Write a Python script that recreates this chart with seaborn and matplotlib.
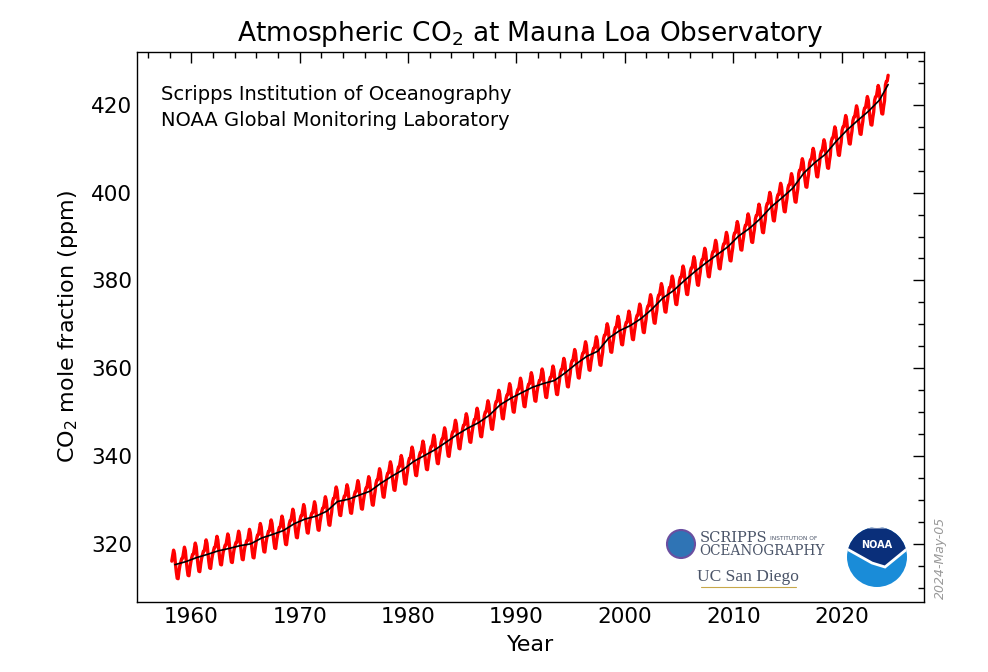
import matplotlib
matplotlib.use("Agg")
import matplotlib.pyplot as plt
from matplotlib.patches import Ellipse, Polygon
from matplotlib.ticker import MultipleLocator
import numpy as np
import pandas as pd
import seaborn as sns

# Annual mean CO2 (ppm) at Mauna Loa, 1958 (partial) .. 2024 (Jan-Apr)
years = list(range(1958, 2025))
annual_mean = [
    315.3, 315.98, 316.91, 317.64, 318.45, 318.99, 319.62, 320.04, 321.37, 322.18,
    323.05, 324.62, 325.68, 326.32, 327.46, 329.68, 330.19, 331.13, 332.03, 333.84,
    335.41, 336.84, 338.76, 340.12, 341.48, 343.15, 344.87, 346.35, 347.61, 349.31,
    351.69, 353.20, 354.45, 355.70, 356.54, 357.21, 358.96, 360.97, 362.74, 363.88,
    366.84, 368.54, 369.71, 371.32, 373.45, 375.98, 377.70, 379.98, 382.09, 384.02,
    385.83, 387.64, 390.10, 391.85, 394.06, 396.74, 398.81, 401.01, 404.41, 406.76,
    408.72, 411.66, 414.24, 416.45, 418.56, 421.08, 424.6,
]
# Seasonal departure from the annual mean, Jan..Dec (ppm)
seasonal_cycle = [-0.1, 0.7, 0.8, 2.1, 3.3, 2.5, 0.3, -1.6, -3.1, -3.2, -1.5, -0.2]
first_month = (1958, 3)
last_month = (2024, 4)

# monthly record
rows = []
for y, mean in zip(years, annual_mean):
    for m in range(1, 13):
        if (y, m) < first_month or (y, m) > last_month:
            continue
        rows.append({"time": y + (m - 0.5) / 12, "co2": mean + seasonal_cycle[m - 1]})
monthly = pd.DataFrame(rows)

trend = pd.DataFrame({
    "time": np.clip(np.array(years) + 0.5, monthly["time"].min(), monthly["time"].max()),
    "co2": annual_mean,
})

sns.set_style("white")
plt.rcParams["font.family"] = ["DejaVu Sans"]
plt.rcParams["text.color"] = "black"
plt.rcParams["axes.labelcolor"] = "black"
plt.rcParams["xtick.color"] = "black"
plt.rcParams["ytick.color"] = "black"

fig = plt.figure(figsize=(9.88, 6.72), dpi=100)
ax = fig.add_axes([137 / 988, 1 - 602 / 672, (924 - 137) / 988, (602 - 52) / 672])

sns.lineplot(data=monthly, x="time", y="co2", color="red", linewidth=2.4, ax=ax)
sns.lineplot(data=trend, x="time", y="co2", color="black", linewidth=1.2, ax=ax)

ax.set_xlim(1955, 2027.6)
ax.set_ylim(306.8, 432)
ax.xaxis.set_major_locator(MultipleLocator(10))
ax.xaxis.set_minor_locator(MultipleLocator(2))
ax.yaxis.set_major_locator(MultipleLocator(20))
ax.yaxis.set_minor_locator(MultipleLocator(5))
ax.tick_params(which="both", direction="in", top=True, right=True, labelsize=15.5, color="black")
ax.tick_params(which="major", length=8, width=1)
ax.tick_params(which="minor", length=4, width=1)
for s in ax.spines.values():
    s.set_color("black")
    s.set_linewidth(1)

ax.set_title("Atmospheric CO$_2$ at Mauna Loa Observatory", fontsize=19, pad=8)
ax.set_xlabel("Year", fontsize=16, labelpad=6)
ax.set_ylabel("CO$_2$ mole fraction (ppm)", fontsize=16, labelpad=8)

ax.text(0.03, 0.94, "Scripps Institution of Oceanography\nNOAA Global Monitoring Laboratory",
        transform=ax.transAxes, fontsize=14, va="top", ha="left", linespacing=1.45)

# date stamp
fig.text(940 / 988, 1 - 558 / 672, "2024-May-05", rotation=90, fontsize=9, style="italic",
         color="#999999", ha="center", va="center")

# Scripps / UC San Diego logo (approximation)
fig.add_artist(Ellipse((681 / 988, 1 - 544 / 672), 28 / 988, 28 / 672,
                       transform=fig.transFigure, facecolor="#2f74b5", edgecolor="#6a4fa0", lw=1.5))
fig.text(700 / 988, 1 - 538 / 672, "SCRIPPS", fontsize=10.5, family="DejaVu Serif",
         color="#4a5468", va="center", ha="left")
fig.text(770 / 988, 1 - 538 / 672, "INSTITUTION OF", fontsize=4.2, color="#4a5468",
         va="center", ha="left")
fig.text(699 / 988, 1 - 551 / 672, "OCEANOGRAPHY", fontsize=9.8, family="DejaVu Serif",
         color="#4a5468", va="center", ha="left")
fig.text(748 / 988, 1 - 577 / 672, "UC San Diego", fontsize=12.5, family="Liberation Serif",
         color="#4a5468", va="center", ha="center")
fig.add_artist(plt.Line2D([701 / 988, 796 / 988], [1 - 587 / 672, 1 - 587 / 672],
                          color="#c8a84a", lw=0.8))

# NOAA logo (approximation)
cx, cy, r = 877, 557, 30
circle = Ellipse((cx / 988, 1 - cy / 672), 2 * r / 988, 2 * r / 672,
                 transform=fig.transFigure, facecolor="#1a8cd8", edgecolor="none")
fig.add_artist(circle)
cap = Polygon([[(cx - r) / 988, 1 - (cy - r) / 672], [(cx + r) / 988, 1 - (cy - r) / 672],
               [(cx + r) / 988, 1 - (cy - 8) / 672], [(cx + 8) / 988, 1 - (cy + 10) / 672],
               [(cx - 5) / 988, 1 - (cy + 6) / 672], [(cx - r) / 988, 1 - (cy - 8) / 672]],
              closed=True, transform=fig.transFigure, facecolor="#0a2f7a", edgecolor="white", lw=2)
fig.add_artist(cap)
cap.set_clip_path(circle)
fig.text(cx / 988, 1 - (cy - 12) / 672, "NOAA", fontsize=7, weight="bold", color="white",
         ha="center", va="center")

fig.savefig("out.png", dpi=100, facecolor="white")
